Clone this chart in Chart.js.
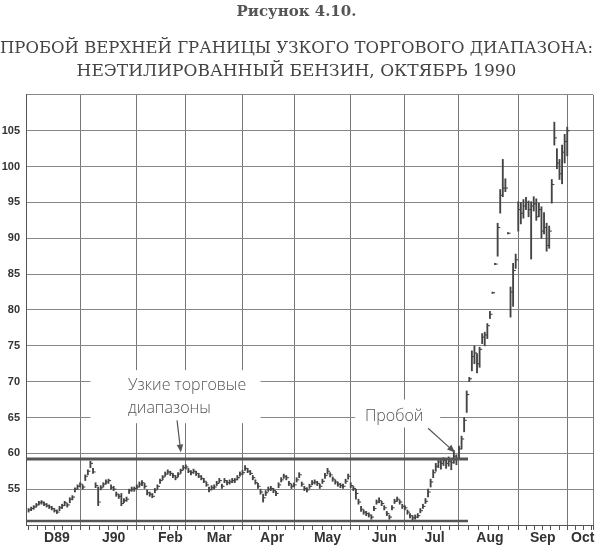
<!DOCTYPE html>
<html>
<head>
<meta charset="utf-8">
<script src="https://cdn.jsdelivr.net/npm/chart.js@4.4.1/dist/chart.umd.min.js"></script>
<style>
  html, body { margin: 0; padding: 0; background: #fff; }
  canvas { display: block; }
</style>
</head>
<body>
<canvas id="chart" width="600" height="546"></canvas>
<script>
// one bar per trading day, index 0 = 1 Dec 1989
const lows = [
  // Dec
  51.8,52.0,52.2,52.5,52.8,52.9,52.7,52.5,52.3,52.1,51.8,51.6,52.0,52.3,52.7,52.5,53.1,53.5,54.6,55.0,
  // Jan
  55.3,55.0,56.2,57.0,58.0,57.2,55.2,52.7,54.9,55.3,55.7,55.8,55.0,54.8,54.0,53.7,52.7,53.1,53.3,54.4,54.7,54.7,
  // Feb
  55.0,55.3,55.5,55.1,54.2,54.0,53.8,54.5,55.0,55.8,56.3,56.8,57.1,56.9,56.6,56.3,56.7,57.2,57.7,
  // Mar
  57.8,57.3,57.0,57.2,56.9,56.6,56.3,55.9,55.4,54.6,54.9,55.0,55.5,55.9,55.1,55.9,55.6,55.7,55.9,55.9,56.3,56.8,
  // Apr
  57.0,57.6,57.3,57.0,56.3,55.7,55.1,54.3,53.2,54.1,54.7,54.8,54.5,54.1,55.2,56.0,56.5,56.3,55.5,55.1,
  // May
  55.3,56.0,56.6,55.4,54.8,54.6,55.1,55.6,55.7,55.5,55.1,55.8,56.5,57.1,56.7,56.1,55.7,55.4,55.2,55.1,55.8,56.4,
  // Jun
  55.2,54.8,53.6,52.9,51.9,51.5,51.3,51.1,50.8,52.0,52.9,53.1,52.7,52.1,51.3,50.8,52.1,53.0,53.3,52.9,52.3,
  // Jul
  52.1,51.5,51.0,50.7,50.8,51.0,51.7,52.3,53.0,53.9,55.3,56.6,57.5,58.0,57.8,58.3,57.9,58.2,57.7,58.6,58.4,
  // Aug
  59.4,60.6,63.0,65.7,70.0,71.5,72.5,71.2,72.0,75.3,75.0,76.0,78.8,82.3,86.3,87.5,93.5,95.8,96.5,90.6,79.0,80.5,85.8,
  // Sep
  91.0,92.0,92.8,94.0,93.0,87.1,93.8,92.5,93.0,90.0,90.6,88.2,88.6,94.9,103.0,99.7,98.2,97.6,100.5,
  // Oct
  101.5
];
const highs = [
  52.3,52.5,52.7,53.0,53.3,53.4,53.2,53.0,52.8,52.6,52.3,52.1,52.6,52.9,53.3,53.0,53.8,54.1,55.2,55.6,
  55.9,55.6,57.0,57.7,58.9,57.9,55.9,55.3,55.5,55.9,56.3,56.4,55.6,55.4,54.6,54.3,54.4,53.7,53.9,55.0,55.3,55.3,
  55.6,56.0,56.2,55.8,54.9,54.6,54.4,55.1,55.6,56.4,56.9,57.4,57.7,57.5,57.2,56.9,57.3,57.8,58.3,
  58.4,57.9,57.6,57.8,57.5,57.2,56.9,56.5,56.0,55.3,55.5,55.6,56.1,56.5,55.7,56.5,56.2,56.3,56.5,56.5,56.9,57.4,
  57.6,58.3,57.9,57.6,56.9,56.3,55.8,55.0,54.3,54.8,55.3,55.4,55.1,54.7,55.9,56.6,57.1,56.9,56.1,55.7,
  55.9,56.6,57.3,56.0,55.4,55.2,55.7,56.2,56.3,56.1,55.7,56.4,57.2,57.9,57.3,56.7,56.3,56.0,55.8,55.7,56.4,57.1,
  55.9,55.4,55.0,53.6,52.6,52.1,51.9,51.7,51.4,52.6,53.5,53.8,53.3,52.7,51.9,51.4,52.7,53.6,53.9,53.5,52.9,
  52.7,52.1,51.6,51.3,51.4,51.6,52.3,52.9,53.7,55.0,56.4,57.7,58.6,59.3,59.1,59.4,59.2,59.5,59.2,60.4,59.8,
  61.0,62.4,65.0,68.7,70.6,74.3,75.0,73.9,74.8,76.7,76.9,78.1,79.8,82.5,86.5,92.1,96.8,101.0,98.3,90.8,83.2,86.5,87.8,
  95.1,95.0,95.4,95.7,95.2,95.1,95.8,95.5,94.9,94.4,93.6,92.1,91.7,98.2,106.2,102.5,101.0,103.0,104.5,
  105.5
];
const closes = [
  52.1,52.3,52.5,52.8,53.1,53.2,52.9,52.7,52.5,52.3,52.0,51.8,52.4,52.7,53.1,52.8,53.6,53.9,55.0,55.4,
  55.7,55.3,56.8,57.5,58.6,57.4,55.5,53.2,55.2,55.7,56.0,56.2,55.2,55.0,54.3,54.0,53.0,53.4,53.6,54.8,55.0,55.1,
  55.3,55.7,55.9,55.4,54.5,54.3,54.0,54.9,55.4,56.2,56.7,57.1,57.4,57.2,56.9,56.6,57.1,57.6,58.0,
  58.1,57.5,57.3,57.5,57.2,56.8,56.5,56.1,55.6,54.9,55.2,55.3,55.8,56.2,55.4,56.2,55.9,56.0,56.2,56.3,56.6,57.1,
  57.3,57.9,57.5,57.2,56.6,55.9,55.4,54.6,53.8,54.5,55.0,55.1,54.8,54.4,55.6,56.3,56.8,56.6,55.8,55.4,
  55.6,56.3,57.0,55.7,55.1,54.9,55.4,55.9,56.0,55.8,55.4,56.1,56.9,57.5,57.0,56.4,56.0,55.7,55.5,55.4,56.1,56.8,
  55.5,55.1,54.4,53.2,52.2,51.8,51.6,51.4,51.1,52.3,53.2,53.4,53.0,52.4,51.6,51.1,52.4,53.3,53.6,53.2,52.6,
  52.4,51.8,51.3,51.0,51.1,51.3,52.0,52.6,53.3,54.6,56.0,57.3,58.2,58.8,58.6,59.0,58.6,58.9,58.7,59.6,59.3,
  60.6,62.0,64.6,68.2,70.4,73.5,74.0,72.5,74.5,76.2,76.5,77.8,79.4,82.4,86.4,91.5,96.0,97.0,97.0,90.7,82.5,85.5,87.0,
  94.0,93.5,94.5,95.0,94.0,94.5,94.8,93.0,94.0,91.0,91.5,89.0,91.0,97.5,104.0,100.5,99.0,102.0,103.5,
  105.0
];

// trading-day index where each month begins (Jan..Oct)
const monthStarts = [20, 42, 61, 83, 103, 125, 146, 167, 190, 209];
const monthLabels = ['D89', 'J90', 'Feb', 'Mar', 'Apr', 'May', 'Jun', 'Jul', 'Aug', 'Sep', 'Oct'];
const monthLabelAt = [11, 33, 55, 74, 94.5, 116, 138, 157.5, 179, 199.5, 215];
const yLabels = [55, 60, 65, 70, 75, 80, 85, 90, 95, 100, 105];

// narrow trading range drawn on the chart
const rangeTop = 59.2;
const rangeBottom = 50.55;
const rangeEnd = 170.5;

const xMin = -1, xMax = 219;

const hl = lows.map((lo, i) => ({x: i, y: [lo, highs[i]]}));
const cl = closes.map((c, i) => ({x: i, y: c}));

// x ticks: month lines, small marks, and month names between the lines
const xTickList = [{value: 0, kind: 'minor'}];
monthStarts.forEach(v => xTickList.push({value: v, kind: 'month'}));
xTickList.push({value: xMax, kind: 'month'});
const bounds = [0].concat(monthStarts);
bounds.forEach((a, m) => {
  const b = m + 1 < bounds.length ? bounds[m + 1] : a + (a - bounds[m - 1]);
  for (let k = 1; k < 6; k++) {
    const v = a + (b - a) * k / 6;
    if (v < xMax) xTickList.push({value: v, kind: 'minor'});
  }
});
monthLabelAt.forEach((v, i) => xTickList.push({value: v, kind: 'label', text: monthLabels[i]}));
xTickList.sort((p, q) => p.value - q.value);

function arrow(ctx, x1, y1, x2, y2) {
  const a = Math.atan2(y2 - y1, x2 - x1);
  ctx.beginPath();
  ctx.moveTo(x1, y1);
  ctx.lineTo(x2 - Math.cos(a) * 6, y2 - Math.sin(a) * 6);
  ctx.stroke();
  ctx.beginPath();
  ctx.moveTo(x2, y2);
  ctx.lineTo(x2 - Math.cos(a) * 8 - Math.sin(a) * 3.2, y2 - Math.sin(a) * 8 + Math.cos(a) * 3.2);
  ctx.lineTo(x2 - Math.cos(a) * 8 + Math.sin(a) * 3.2, y2 - Math.sin(a) * 8 - Math.cos(a) * 3.2);
  ctx.closePath();
  ctx.fill();
}

const notes = {
  id: 'notes',
  beforeDatasetsDraw(chart) {
    const {ctx, scales: {x, y}} = chart;
    ctx.save();
    ctx.fillStyle = '#fff';
    const box = (d1, d2, v1, v2) => {
      const px1 = x.getPixelForValue(d1), px2 = x.getPixelForValue(d2);
      const py1 = y.getPixelForValue(v2), py2 = y.getPixelForValue(v1);
      ctx.fillRect(px1, py1, px2 - px1, py2 - py1);
    };
    box(24, 90, 64.2, 71.6);
    box(126.7, 159.7, 63.6, 67.5);
    ctx.restore();
  },
  afterDatasetsDraw(chart) {
    const {ctx, scales: {x, y}} = chart;
    ctx.save();
    ctx.fillStyle = '#555';
    ctx.strokeStyle = '#555';
    ctx.lineWidth = 1.2;
    ctx.font = '300 16px "Open Sans"';
    ctx.textAlign = 'left';
    ctx.textBaseline = 'middle';
    ctx.fillText('Узкие торговые', x.getPixelForValue(38.6), y.getPixelForValue(69.5));
    ctx.fillText('диапазоны', x.getPixelForValue(38.6), y.getPixelForValue(66.3));
    ctx.fillText('Пробой', x.getPixelForValue(130.5), y.getPixelForValue(65.2));
    arrow(ctx, x.getPixelForValue(57.6), y.getPixelForValue(64.6), x.getPixelForValue(59.1), y.getPixelForValue(60.1));
    arrow(ctx, x.getPixelForValue(155), y.getPixelForValue(63.5), x.getPixelForValue(165.5), y.getPixelForValue(60.1));
    ctx.restore();
  }
};

new Chart(document.getElementById('chart'), {
  type: 'bar',
  data: {
    datasets: [
      {
        type: 'line',
        data: [{x: xMin, y: rangeTop}, {x: rangeEnd, y: rangeTop}],
        borderColor: '#555',
        borderWidth: 3,
        pointRadius: 0
      },
      {
        type: 'line',
        data: [{x: xMin, y: rangeBottom}, {x: rangeEnd, y: rangeBottom}],
        borderColor: '#555',
        borderWidth: 2.5,
        pointRadius: 0
      },
      {
        type: 'bar',
        data: hl,
        backgroundColor: '#444',
        barThickness: 1.2
      },
      {
        type: 'scatter',
        data: cl,
        showLine: false,
        pointStyle: 'dash',
        pointRadius: 2.6,
        pointBorderWidth: 1.1,
        borderColor: '#444',
        backgroundColor: '#444'
      }
    ]
  },
  options: {
    responsive: false,
    animation: false,
    events: [],
    layout: { padding: { right: 7 } },
    plugins: {
      legend: { display: false },
      tooltip: { enabled: false },
      title: {
        display: true,
        text: 'Рисунок 4.10.',
        color: '#555',
        font: { family: 'DejaVu Serif', size: 15, weight: 'bold' },
        padding: { top: 3, bottom: 16 }
      },
      subtitle: {
        display: true,
        text: ['ПРОБОЙ ВЕРХНЕЙ ГРАНИЦЫ УЗКОГО ТОРГОВОГО ДИАПАЗОНА:', 'НЕЭТИЛИРОВАННЫЙ БЕНЗИН, ОКТЯБРЬ 1990'],
        color: '#444',
        font: { family: 'DejaVu Serif', size: 17, lineHeight: 1.35 },
        padding: { top: 0, bottom: 12 }
      }
    },
    scales: {
      x: {
        type: 'linear',
        min: xMin,
        max: xMax,
        offset: false,
        afterBuildTicks(scale) { scale.ticks = xTickList.map(t => Object.assign({}, t)); },
        afterFit(scale) { scale.height = 21; },
        ticks: {
          autoSkip: false,
          maxRotation: 0,
          padding: 0,
          color: '#333',
          font: { family: 'Liberation Sans', size: 14, weight: 'bold' },
          callback: (v, i, ticks) => ticks[i].text || ''
        },
        grid: {
          offset: false,
          tickLength: 5,
          color: c => (c.tick && c.tick.kind === 'month') ? '#777' : 'rgba(0,0,0,0)',
          tickColor: c => (c.tick && c.tick.kind !== 'label') ? '#555' : 'rgba(0,0,0,0)'
        },
        border: { color: '#555', width: 1 }
      },
      y: {
        min: 50,
        max: 110,
        beginAtZero: false,
        afterFit(scale) { scale.width = 26; },
        ticks: {
          stepSize: 5,
          padding: 6,
          color: '#333',
          font: { family: 'Liberation Sans', size: 11, weight: 'bold' },
          callback: v => yLabels.includes(v) ? String(v) : ''
        },
        grid: { color: '#888', drawTicks: false },
        border: { color: '#555', width: 1 }
      }
    }
  },
  plugins: [notes]
});
</script>
</body>
</html>
